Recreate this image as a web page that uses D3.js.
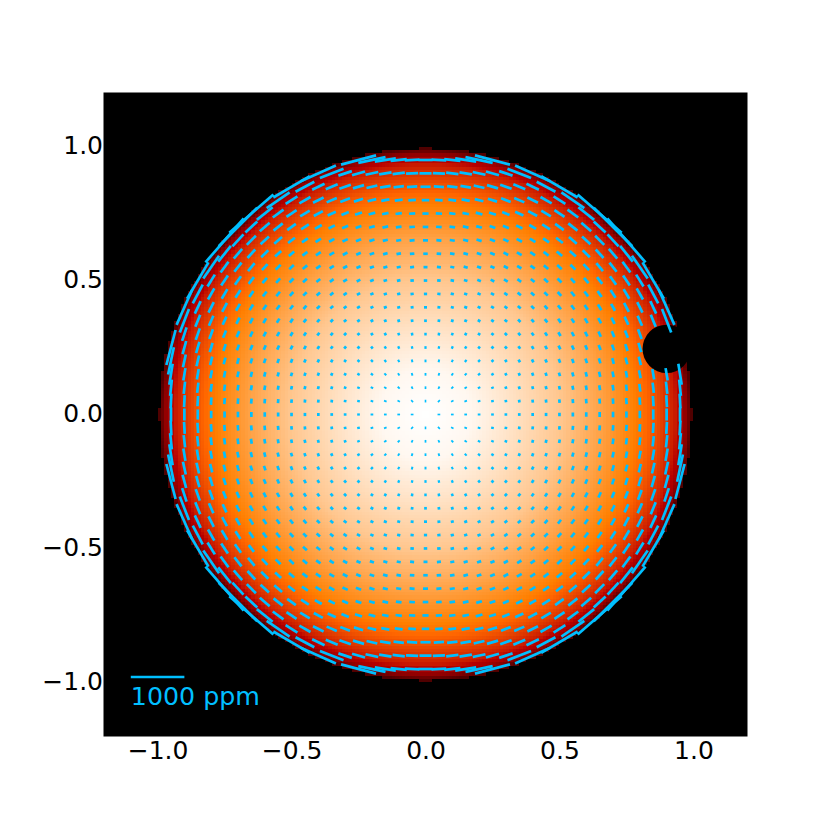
<!DOCTYPE html>
<html>
<head>
<meta charset="utf-8">
<script src="https://cdn.jsdelivr.net/npm/d3@7"></script>
<style>
    body { margin: 0; background: #fff; }
    text { font-family: "DejaVu Sans"; }
</style>
</head>
<body>
<svg id="chart" width="830" height="830"></svg>
<script>
const tickValues = [-1.0, -0.5, 0.0, 0.5, 1.0];

// brightness of the disc read along its radius
const brightRadius = [0, 0.17, 0.318, 0.504, 0.653, 0.784, 0.858, 0.895, 0.933, 0.96, 0.975, 0.99];
const brightValue = [1.0, 0.985, 0.945, 0.89, 0.82, 0.75, 0.66, 0.61, 0.55, 0.46, 0.37, 0.22];

// colour map of the image
const colorStops = [0, 0.5, 0.7, 0.75, 1];
const colorValues = ["#000000", "#b60000", "#ff6600", "#ff7f00", "#ffffff"];

// polarisation length read along the radius, in ppm
const polRadius = [0, 0.05, 0.2, 0.3, 0.4, 0.5, 0.65, 0.75, 0.8, 0.85, 0.9, 0.95, 0.955, 0.962, 0.966, 0.971, 0.982, 0.985, 0.99, 0.9925];
const polPpm = [0, 30, 37, 46, 56, 65, 93, 115, 140, 190, 225, 265, 300, 400, 480, 520, 670, 720, 1020, 1090];

// the dark spot on the disc
const spotX = 0.9;
const spotY = 0.245;
const spotR = 0.09;

const discEdge = 0.994;
const cellStep = 0.0125;
const gridStep = 0.05;

const x = d3.scaleLinear().domain([-1.2, 1.2]).range([104, 747]);
const y = d3.scaleLinear().domain([-1.2, 1.2]).range([736, 93]);
const brightness = d3.scaleLinear().domain(brightRadius).range(brightValue).clamp(true);
const color = d3.scaleLinear().domain(colorStops).range(colorValues);
const polLength = d3.scaleLinear().domain(polRadius).range(polPpm).clamp(true);
const ppmToData = d3.scaleLinear().domain([0, 1000]).range([0, 0.2]);

const inSpot = (a, b) => Math.hypot(a - spotX, b - spotY) < spotR;

const svg = d3.select("#chart");

svg.append("rect")
    .attr("x", x(-1.2))
    .attr("y", y(1.2))
    .attr("width", x(1.2) - x(-1.2))
    .attr("height", y(-1.2) - y(1.2))
    .attr("fill", "#000")
    .attr("stroke", "#000")
    .attr("stroke-width", 1);

// image cells
const cells = [];
const nCells = Math.round(2 / cellStep);
for (let i = 0; i < nCells; i++) {
    for (let j = 0; j < nCells; j++) {
        const a = -1 + (i + 0.5) * cellStep;
        const b = -1 + (j + 0.5) * cellStep;
        const r = Math.hypot(a, b);
        if (r < discEdge) cells.push({ a, b, r });
    }
}

svg.append("g")
    .attr("shape-rendering", "crispEdges")
    .selectAll("rect")
    .data(cells)
    .enter()
    .append("rect")
    .attr("x", d => x(d.a - cellStep / 2))
    .attr("y", d => y(d.b + cellStep / 2))
    .attr("width", x(cellStep) - x(0))
    .attr("height", y(0) - y(cellStep))
    .attr("fill", d => color(brightness(d.r)));

svg.append("circle")
    .attr("cx", x(spotX))
    .attr("cy", y(spotY))
    .attr("r", x(spotR) - x(0))
    .attr("fill", "#000");

// vectors, tangent to the disc
const vectors = [];
for (let i = -20; i <= 20; i++) {
    for (let j = -20; j <= 20; j++) {
        const a = i * gridStep;
        const b = j * gridStep;
        const r = Math.hypot(a, b);
        if (r > 0 && r < polRadius[polRadius.length - 1] + 0.001 && !inSpot(a, b)) {
            vectors.push({ a, b, r, half: ppmToData(polLength(r)) / 2 });
        }
    }
}

svg.append("g")
    .selectAll("line")
    .data(vectors)
    .enter()
    .append("line")
    .attr("x1", d => x(d.a - d.half * d.b / d.r))
    .attr("y1", d => y(d.b + d.half * d.a / d.r))
    .attr("x2", d => x(d.a + d.half * d.b / d.r))
    .attr("y2", d => y(d.b - d.half * d.a / d.r))
    .attr("stroke", "deepskyblue")
    .attr("stroke-width", 2.7);

// scale bar
svg.append("line")
    .attr("x1", x(-1.1))
    .attr("x2", x(-1.1) + x(ppmToData(1000)) - x(0))
    .attr("y1", y(-0.98))
    .attr("y2", y(-0.98))
    .attr("stroke", "deepskyblue")
    .attr("stroke-width", 2.5);

svg.append("text")
    .attr("x", x(-1.1))
    .attr("y", y(-1.083))
    .attr("fill", "deepskyblue")
    .attr("font-size", 25.3)
    .text("1000 ppm");

// axes
const fmt = d => d3.format(".1f")(d).replace("-", "\u2212");

const xAxis = svg.append("g")
    .attr("transform", `translate(0, ${y(-1.2)})`)
    .call(d3.axisBottom(x).tickValues(tickValues).tickFormat(fmt).tickSize(0).tickPadding(5));

const yAxis = svg.append("g")
    .attr("transform", `translate(${x(-1.2)}, -1)`)
    .call(d3.axisLeft(y).tickValues(tickValues).tickFormat(fmt).tickSize(0).tickPadding(1));

[xAxis, yAxis].forEach(g => {
    g.select(".domain").remove();
    g.selectAll("text")
        .attr("font-family", "DejaVu Sans")
        .attr("font-size", 25)
        .attr("fill", "#000");
});
</script>
</body>
</html>
